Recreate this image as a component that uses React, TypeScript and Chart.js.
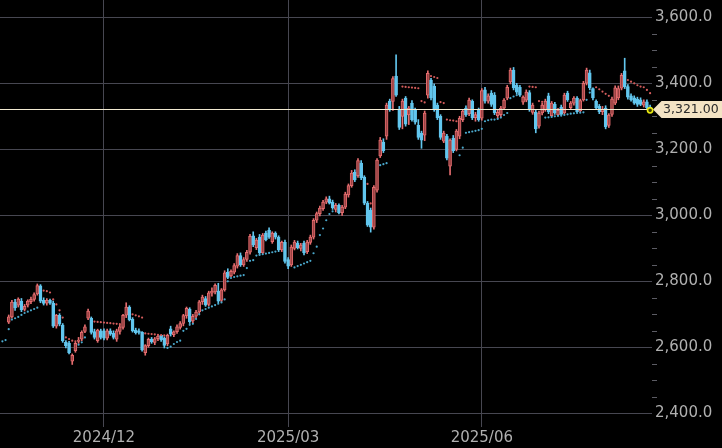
import React, { useEffect, useRef } from 'react';
import { Chart, registerables } from 'chart.js';

Chart.register(...registerables);

const _ = null;

// Daily candles (index = trading day from the left edge of the picture)
const opens = [
  _, _, 2676, 2692, 2737, 2728, 2740, 2715, 2728, 2738,
  2745, 2762, 2786, 2742, 2734, 2742, 2734, 2664, 2697, 2667,
  2615, 2612, 2558, 2590, 2618, 2625, 2648, 2688, 2688, 2648,
  2620, 2650, 2650, 2628, 2650, 2642, 2625, 2648, 2660, 2697,
  2722, 2685, 2652, 2650, 2645, 2584, 2605, 2625, 2615, 2626,
  2636, 2628, 2610, 2656, 2638, 2647, 2660, 2672, 2695, 2716,
  2680, 2694, 2707, 2738, 2748, 2730, 2764, 2768, 2770, 2742,
  2774, 2828, 2816, 2828, 2846, 2878, 2850, 2866, 2888, 2938,
  2902, 2934, 2886, 2946, 2955, 2920, 2946, 2934, 2895, 2918,
  2866, 2850, 2900, 2916, 2900, 2916, 2890, 2918, 2934, 2985,
  3005, 3020, 3040, 3050, 3040, 3018, 3030, 3008, 3025, 3062,
  3090, 3130, 3120, 3158, 3116, 3037, 3016, 2964, 3076, 3180,
  3222, 3240, 3346, 3345, 3422, 3320, 3300, 3355, 3304, 3340,
  3319, 3273, 3249, 3243, 3364, 3410, 3391, 3334, 3300, 3225,
  3240, 3149, 3234, 3200, 3240, 3290, 3325, 3308, 3346, 3296,
  3318, 3294, 3380, 3346, 3370, 3364, 3302, 3305, 3325, 3355,
  3404, 3440, 3394, 3388, 3343, 3349, 3372, 3312, 3312, 3270,
  3310, 3320, 3362, 3302, 3336, 3304, 3328, 3310, 3370, 3326,
  3340, 3355, 3316, 3350, 3400, 3432, 3384, 3345, 3330, 3314,
  3325, 3272, 3306, 3340, 3356, 3385, 3438, 3390, 3362, 3356,
  3352, 3350, 3334, 3344, 3328,
];

const highs = [
  _, _, 2698, 2742, 2745, 2750, 2748, 2730, 2744, 2752,
  2765, 2792, 2790, 2750, 2748, 2746, 2740, 2700, 2702, 2672,
  2620, 2618, 2580, 2615, 2630, 2650, 2668, 2716, 2692, 2655,
  2655, 2655, 2656, 2655, 2656, 2650, 2655, 2668, 2700, 2735,
  2726, 2690, 2658, 2656, 2648, 2608, 2628, 2630, 2630, 2636,
  2636, 2632, 2640, 2664, 2650, 2668, 2678, 2700, 2722, 2720,
  2700, 2712, 2742, 2758, 2754, 2770, 2780, 2792, 2794, 2778,
  2832, 2838, 2835, 2854, 2884, 2886, 2872, 2894, 2942, 2950,
  2930, 2942, 2945, 2952, 2962, 2950, 2950, 2938, 2922, 2925,
  2872, 2910, 2924, 2922, 2915, 2922, 2924, 2940, 2990, 3010,
  3028, 3045, 3056, 3058, 3046, 3036, 3035, 3030, 3070, 3095,
  3136, 3138, 3172, 3166, 3120, 3042, 3022, 3090, 3172, 3236,
  3232, 3340, 3352, 3420, 3486, 3330, 3352, 3360, 3330, 3348,
  3325, 3290, 3255, 3316, 3438, 3415, 3398, 3340, 3305, 3255,
  3245, 3232, 3242, 3260, 3300, 3320, 3332, 3355, 3350, 3312,
  3325, 3384, 3388, 3368, 3378, 3372, 3320, 3330, 3354, 3394,
  3446, 3448, 3400, 3394, 3362, 3380, 3378, 3340, 3318, 3316,
  3340, 3352, 3370, 3345, 3342, 3324, 3334, 3370, 3376, 3345,
  3360, 3360, 3352, 3406, 3446, 3440, 3386, 3350, 3336, 3330,
  3332, 3308, 3358, 3392, 3392, 3430, 3476, 3396, 3368, 3362,
  3358, 3356, 3350, 3350, 3334,
];

const lows = [
  _, _, 2672, 2688, 2712, 2722, 2708, 2710, 2722, 2732,
  2740, 2758, 2735, 2728, 2728, 2730, 2660, 2658, 2665, 2615,
  2598, 2580, 2548, 2585, 2612, 2620, 2644, 2684, 2640, 2625,
  2615, 2625, 2622, 2622, 2636, 2625, 2618, 2640, 2655, 2690,
  2680, 2646, 2640, 2640, 2588, 2576, 2600, 2612, 2608, 2620,
  2618, 2598, 2605, 2634, 2632, 2642, 2655, 2665, 2688, 2672,
  2674, 2688, 2702, 2730, 2724, 2725, 2755, 2762, 2735, 2738,
  2770, 2808, 2814, 2822, 2840, 2845, 2845, 2860, 2882, 2905,
  2896, 2882, 2884, 2922, 2930, 2915, 2928, 2890, 2890, 2855,
  2838, 2845, 2895, 2898, 2892, 2880, 2884, 2912, 2928, 2978,
  2998, 3015, 3035, 3034, 3018, 3010, 3004, 3000, 3020, 3055,
  3085, 3102, 3115, 3108, 3032, 2966, 2949, 2958, 3070, 3175,
  3190, 3230, 3315, 3318, 3360, 3260, 3262, 3270, 3275, 3285,
  3276, 3230, 3203, 3226, 3355, 3350, 3315, 3290, 3230, 3220,
  3168, 3122, 3190, 3195, 3232, 3284, 3300, 3302, 3290, 3285,
  3285, 3288, 3340, 3340, 3330, 3305, 3294, 3298, 3320, 3350,
  3398, 3380, 3368, 3360, 3336, 3344, 3315, 3306, 3250, 3264,
  3304, 3315, 3308, 3300, 3306, 3302, 3304, 3306, 3345, 3320,
  3334, 3312, 3313, 3346, 3395, 3380, 3350, 3322, 3308, 3305,
  3262, 3266, 3300, 3335, 3350, 3380, 3384, 3352, 3346, 3336,
  3330, 3332, 3328, 3322, 3316,
];

const closes = [
  _, _, 2692, 2737, 2719, 2746, 2713, 2724, 2740, 2745,
  2760, 2787, 2740, 2733, 2742, 2734, 2664, 2697, 2670, 2619,
  2605, 2584, 2576, 2612, 2622, 2645, 2662, 2710, 2645, 2630,
  2652, 2630, 2628, 2650, 2640, 2630, 2650, 2662, 2697, 2722,
  2684, 2650, 2644, 2645, 2592, 2605, 2624, 2616, 2626, 2634,
  2622, 2606, 2636, 2640, 2647, 2662, 2672, 2696, 2718, 2678,
  2694, 2707, 2738, 2752, 2728, 2765, 2770, 2788, 2740, 2774,
  2826, 2812, 2830, 2848, 2878, 2850, 2866, 2888, 2936, 2910,
  2925, 2886, 2940, 2926, 2934, 2946, 2934, 2895, 2918, 2860,
  2846, 2904, 2919, 2902, 2910, 2886, 2919, 2934, 2985, 3005,
  3022, 3040, 3050, 3037, 3022, 3030, 3008, 3025, 3064, 3090,
  3128, 3107, 3166, 3113, 3037, 2970, 2964, 3085, 3167, 3228,
  3196, 3334, 3320, 3414, 3364, 3266, 3346, 3276, 3325, 3290,
  3282, 3236, 3228, 3310, 3430, 3356, 3320, 3296, 3236, 3249,
  3173, 3228, 3196, 3255, 3294, 3316, 3305, 3349, 3296, 3305,
  3290, 3378, 3346, 3362, 3336, 3310, 3312, 3325, 3349, 3388,
  3440, 3386, 3373, 3364, 3358, 3373, 3320, 3334, 3262, 3310,
  3334, 3346, 3314, 3340, 3310, 3318, 3306, 3364, 3350, 3340,
  3355, 3314, 3348, 3400, 3440, 3386, 3356, 3326, 3314, 3322,
  3268, 3304, 3352, 3386, 3384, 3424, 3390, 3358, 3350, 3340,
  3336, 3336, 3344, 3326, 3321,
];

// Parabolic-SAR style dots: below price (cyan) / above price (red)
const sarBelow = [
  2618, 2622, 2655, 2684, 2688, 2692, 2698, 2704, 2708, 2712,
  2716, 2720, _, _, _, _, _, _, _, _,
  _, _, _, _, 2608, 2615, 2630, _, _, _,
  _, _, _, _, _, _, _, _, _, _,
  _, _, _, _, _, _, _, _, _, _,
  _, _, 2598, 2602, 2610, 2616, 2620, 2650, 2656, 2668,
  2671, 2686, 2700, 2712, 2716, 2720, 2724, 2728, 2732, 2736,
  2745, 2800, 2810, 2813, 2815, 2817, 2819, 2840, 2862, 2864,
  2878, 2880, 2882, 2884, 2886, 2888, 2890, _, _, _,
  _, _, 2842, 2846, 2850, 2854, 2858, 2862, 2885, 2905,
  2940, 2960, 2985, 3004, 3012, _, _, _, _, _,
  _, _, _, _, _, _, _, _, _, 3152,
  3155, 3158, _, _, _, _, _, _, _, _,
  _, _, _, _, _, _, _, _, _, _,
  _, _, _, _, 3182, 3205, 3250, 3252, 3254, 3256,
  3258, 3262, 3285, 3288, 3290, 3290, 3292, 3296, 3304, 3310,
  3355, 3360, 3364, _, _, _, _, _, _, _,
  _, 3296, 3297, 3298, 3300, 3301, 3302, 3304, 3306, 3308,
  3309, 3310, 3311, 3312, 3350, 3372, _, _, _, _,
  _, _, _, _, _, _, _, _, _, _,
  _, _, _, _, _,
];

const sarAbove = [
  _, _, _, _, _, _, _, _, _, _,
  _, _, _, 2772, 2770, 2766, 2745, 2730, 2712, 2690,
  2630, 2625, 2620, 2618, _, _, _, _, _, 2678,
  2677, 2676, 2675, 2674, 2673, 2672, 2671, 2670, _, _,
  _, 2700, 2697, 2694, 2690, 2642, 2641, 2640, 2639, 2638,
  2637, 2636, _, _, _, _, _, _, _, _,
  _, _, _, _, _, _, _, _, _, _,
  _, _, _, _, _, _, _, _, _, _,
  _, _, _, _, _, _, _, _, _, _,
  _, _, _, _, _, _, _, _, _, _,
  _, _, _, _, _, _, _, _, _, _,
  _, _, _, _, _, 3095, 3036, _, _, _,
  _, _, _, _, _, _, 3390, 3389, 3388, 3387,
  3386, 3385, 3346, 3342, _, 3422, 3419, 3416, 3343, 3340,
  3290, 3288, 3287, 3285, _, _, _, _, _, _,
  _, _, _, _, _, _, _, _, _, _,
  _, _, _, _, _, _, 3390, 3389, 3388, 3346,
  3344, _, _, _, _, _, _, _, _, _,
  _, _, _, _, _, _, _, 3388, 3382, 3375,
  3368, 3362, _, _, _, _, _, 3410, 3405, 3400,
  3394, 3390, 3388, 3380, 3370,
];

const monthTickIndex = [32, 90, 151];
const monthTickLabels = ['2024/12', '2025/03', '2025/06'];
const priceTicks = [2400, 2600, 2800, 3000, 3200, 3400, 3600];
const minorPriceTicks = [
  2450, 2500, 2550, 2650, 2700, 2750, 2850, 2900, 2950,
  3050, 3100, 3150, 3250, 3300, 3350, 3450, 3500, 3550,
];
const lastPrice = 3321;
const lastPriceLabel = '3,321.00';

const UP_LINE = '#e46c6e';
const UP_FILL = '#9a4243';
const DOWN = '#62c6ee';
const SAR_UP = '#4aa8cc';
const SAR_DOWN = '#d45c5c';
const GRID = '#474751';
const LABEL = '#b0b0b0';
const FONT = 'DejaVu Sans';

export default function App() {
  const ref = useRef<HTMLCanvasElement>(null);

  useEffect(() => {
    document.body.style.margin = '0';
    document.body.style.background = '#000';
    const canvas = ref.current;
    if (!canvas) return;

    const wicks: any[] = [];
    const bodies: any[] = [];
    const wickColors: string[] = [];
    const bodyFill: string[] = [];
    const bodyBorder: string[] = [];
    opens.forEach((o, i) => {
      const c = closes[i];
      const h = highs[i];
      const l = lows[i];
      if (o == null || c == null || h == null || l == null) return;
      const up = c >= o;
      wicks.push({ x: i, y: [l, h] });
      bodies.push({ x: i, y: [Math.min(o, c), Math.max(o, c)] });
      wickColors.push(up ? UP_LINE : DOWN);
      bodyFill.push(up ? UP_FILL : DOWN);
      bodyBorder.push(up ? UP_LINE : DOWN);
    });
    const below: any[] = [];
    sarBelow.forEach((v, i) => { if (v != null) below.push({ x: i, y: v }); });
    const above: any[] = [];
    sarAbove.forEach((v, i) => { if (v != null) above.push({ x: i, y: v }); });
    const lastIndex = closes.length - 1;

    const overlay = {
      id: 'overlay',
      afterDatasetsDraw(chart: any) {
        const ctx = chart.ctx;
        const area = chart.chartArea;
        const ys = chart.scales.y;
        const xs = chart.scales.x;
        ctx.save();
        // minor ticks on the price axis
        ctx.strokeStyle = '#5c5c64';
        ctx.lineWidth = 1;
        minorPriceTicks.forEach((v) => {
          const y = Math.round(ys.getPixelForValue(v)) + 0.5;
          ctx.beginPath();
          ctx.moveTo(area.right, y);
          ctx.lineTo(area.right + 5, y);
          ctx.stroke();
        });
        // last price line
        const py = Math.round(ys.getPixelForValue(lastPrice)) + 0.5;
        ctx.strokeStyle = '#f2ead2';
        ctx.beginPath();
        ctx.moveTo(area.left, py);
        ctx.lineTo(area.right, py);
        ctx.stroke();
        // last price tag
        const tipX = area.right + 1;
        const bx = tipX + 8.5;
        const hh = 8.5;
        ctx.fillStyle = '#f3e3c4';
        ctx.beginPath();
        ctx.moveTo(tipX, py);
        ctx.lineTo(bx, py - hh);
        ctx.lineTo(chart.width, py - hh);
        ctx.lineTo(chart.width, py + hh);
        ctx.lineTo(bx, py + hh);
        ctx.closePath();
        ctx.fill();
        ctx.fillStyle = '#2a2a2a';
        ctx.font = `12.5px "${FONT}"`;
        ctx.textBaseline = 'middle';
        ctx.textAlign = 'left';
        ctx.fillText(lastPriceLabel, bx + 1.5, py + 0.5);
        // marker on the last close
        const lx = xs.getPixelForValue(lastIndex);
        const ly = ys.getPixelForValue(closes[lastIndex] as number);
        ctx.beginPath();
        ctx.arc(lx, ly + 1, 2.6, 0, Math.PI * 2);
        ctx.fillStyle = '#3a3a00';
        ctx.fill();
        ctx.lineWidth = 1.6;
        ctx.strokeStyle = '#ecec10';
        ctx.stroke();
        ctx.restore();
      },
    };

    const chart = new Chart(canvas, {
      type: 'bar',
      data: {
        datasets: [
          {
            type: 'scatter',
            data: below,
            pointRadius: 1.1,
            pointHoverRadius: 0,
            pointBorderWidth: 0,
            pointBackgroundColor: SAR_UP,
            order: 1,
          } as any,
          {
            type: 'scatter',
            data: above,
            pointRadius: 1.1,
            pointHoverRadius: 0,
            pointBorderWidth: 0,
            pointBackgroundColor: SAR_DOWN,
            order: 1,
          } as any,
          {
            type: 'bar',
            data: wicks,
            backgroundColor: wickColors,
            borderWidth: 0,
            barThickness: 1,
            grouped: false,
            order: 3,
          } as any,
          {
            type: 'bar',
            data: bodies,
            backgroundColor: bodyFill,
            borderColor: bodyBorder,
            borderWidth: 1,
            borderSkipped: false,
            barThickness: 3,
            grouped: false,
            order: 2,
          } as any,
        ],
      },
      options: {
        responsive: false,
        animation: false,
        devicePixelRatio: 1,
        events: [],
        layout: { padding: 0, autoPadding: false },
        plugins: { legend: { display: false }, tooltip: { enabled: false } },
        scales: {
          x: {
            type: 'linear',
            position: 'bottom',
            min: -0.75,
            max: 204.6,
            offset: false,
            afterBuildTicks: (s: any) => {
              s.ticks = monthTickIndex.map((v) => ({ value: v }));
            },
            afterFit: (s: any) => {
              s.height = 21;
              s.paddingLeft = 0;
              s.paddingRight = 0;
            },
            ticks: {
              autoSkip: false,
              maxRotation: 0,
              padding: 2,
              color: LABEL,
              font: { family: FONT, size: 15 },
              callback: (v: any) => {
                const j = monthTickIndex.indexOf(Number(v));
                return j >= 0 ? monthTickLabels[j] : '';
              },
            },
            grid: { color: GRID, drawTicks: false, offset: false },
            border: { display: false },
          } as any,
          y: {
            type: 'linear',
            position: 'right',
            min: 2358.5,
            max: 3652.4,
            afterBuildTicks: (s: any) => {
              s.ticks = priceTicks.map((v) => ({ value: v }));
            },
            afterFit: (s: any) => {
              s.width = 70;
              s.paddingTop = 0;
              s.paddingBottom = 0;
            },
            ticks: {
              autoSkip: false,
              padding: 3,
              color: LABEL,
              font: { family: FONT, size: 15 },
              callback: (v: any) =>
                Number(v).toLocaleString('en-US', {
                  minimumFractionDigits: 1,
                  maximumFractionDigits: 1,
                }),
            },
            grid: { color: GRID, drawTicks: false },
            border: { display: false },
          } as any,
        },
      },
      plugins: [overlay],
    });

    return () => chart.destroy();
  }, []);

  return (
    <div style={{ width: 722, height: 448, background: '#000' }}>
      <canvas ref={ref} width={722} height={448} style={{ display: 'block' }} />
    </div>
  );
}
